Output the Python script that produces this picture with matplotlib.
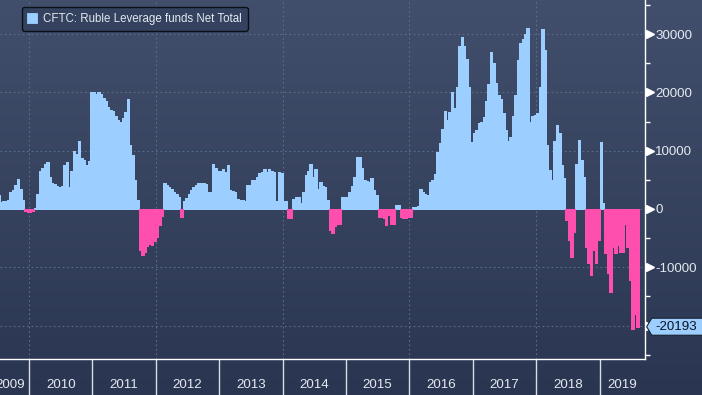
import numpy as np
import matplotlib
matplotlib.use('Agg')
import matplotlib.pyplot as plt
import matplotlib.transforms as mtransforms
from matplotlib import font_manager
from matplotlib.colors import LinearSegmentedColormap
from matplotlib.patches import Polygon
from matplotlib.ticker import MultipleLocator, FuncFormatter

# font: narrow sans if we have it
names = {f.name for f in font_manager.fontManager.ttflist}
narrow = 'Liberation Sans Narrow' in names
font = 'Liberation Sans Narrow' if narrow else 'Liberation Sans'
plt.rcParams['font.family'] = [font, 'DejaVu Sans']
plt.rcParams['axes.unicode_minus'] = False
tick_size = 10.5 if narrow else 9.6
legend_size = 9 if narrow else 8.3

# CFTC ruble leveraged funds net, biweekly readings (2009 from July)
net_2009 = [2400, 1200, 1300, 1400, 1500, 2900, 3200, 4200, 5100, 3500, 1500, -300, -500]
net_2010 = [-500, -400, 200, 2500, 6500, 7000, 7700, 8000, 5500, 4500, 4300, 4000, 3800,
            4000, 7500, 8000, 3800, 6500, 10000, 9500, 11700, 8800, 8400, 7500, 8300, 20000]
net_2011 = [20000, 19800, 20000, 19700, 19000, 18500, 17500, 17000, 16800, 16000, 15200, 14900, 15600,
            16600, 18900, 11000, 9200, 5000, 1500, -7000, -7900, -7400, -6400, -6000, -6200, -5500]
net_2012 = [-4800, -2800, -1200, 4400, 4200, 3800, 3400, 3000, 2600, 2100, -1300, 1300, 1900,
            2500, 3200, 3800, 4100, 4400, 4500, 4400, 4300, 3000, 3000, 7800, 7000, 6600]
net_2013 = [6600, 6800, 6400, 7500, 3200, 3100, 2900, 1800, 1600, 1500, 1400, 4100, 4100,
            4900, 5000, 5500, 6100, 6400, 6800, 6400, 6800, 6600, 6400, 1300, 6300, 6100]
net_2014 = [1300, 1300, -1600, -1600, 1800, 2000, 2000, 1000, 3000, 5800, 6500, 7800, 5500,
            6900, 3500, 4700, 4000, 3800, 1500, -3600, -4200, -3000, -2500, -2500, 2100, 2100]
net_2015 = [2100, 2900, 4000, 5500, 8900, 9000, 7000, 4900, 4800, 4700, 5400, 3200, 2400,
            -1300, -1300, -1500, -2700, -1000, -2600, -2600, 700, 700, -1300, -1600, -1600, -1400]
net_2016 = [-1400, 300, 400, 600, 3500, 3000, 2600, 2400, 4700, 5000, 6000, 9800, 11300,
            13800, 16800, 15300, 16700, 20000, 17300, 21000, 28000, 29500, 28000, 25800, 21000, 11500]
net_2017 = [13000, 13500, 14700, 15000, 15800, 18500, 21500, 26900, 25000, 21600, 19500, 18800, 16500,
            13500, 11600, 12400, 16000, 19600, 25500, 28500, 29200, 30000, 31000, 15000, 16000, 16100]
net_2018 = [16400, 21000, 30900, 27300, 11000, 6700, 5000, 11600, 14400, 13000, 7500, 5300, -1900,
            -5300, -8200, -4000, 7800, 11900, 8400, 5500, -6500, -9300, -11300, -7000, -9300, -5300]
net_2019 = [11500, 1000, -7600, -11000, -14300, -6500, -7600, -6200, -7300, -7300, -2500, -6500,
            -12200, -20500, -18000, -20193]

years = list(range(2009, 2020))
series = [net_2009, net_2010, net_2011, net_2012, net_2013, net_2014,
          net_2015, net_2016, net_2017, net_2018, net_2019]
last_value = net_2019[-1]

BLUE = '#9ccfff'
PINK = '#ff4fae'
GRID = '#5b6d89'
TXT = '#e4e9f0'

pos, vals = [], []
for yr, v in zip(years, series):
    start = yr + 0.5 if yr == 2009 else yr
    pos += [start + (k + 0.5) / 26 for k in range(len(v))]
    vals += v
pos = np.array(pos)
vals = np.array(vals)

fig = plt.figure(figsize=(7.02, 3.95), dpi=100)

# background gradient over the whole figure
bg = fig.add_axes([0, 0, 1, 1], zorder=0)
grad = np.linspace(1, 0, 256).reshape(-1, 1)
cmap = LinearSegmentedColormap.from_list('bg', ['#2a3651', '#424f6c'])
bg.imshow(grad, aspect='auto', cmap=cmap, extent=[0, 1, 0, 1])
bg.axis('off')

ax = fig.add_axes([0, 36 / 395, 645 / 702, 359 / 395], zorder=1)
ax.set_facecolor('none')

up = vals >= 0
ax.bar(pos[up], vals[up], width=1 / 26, color=BLUE, ec=BLUE, lw=0.6, antialiased=False,
       label='CFTC: Ruble Leverage funds Net Total', zorder=2)
ax.bar(pos[~up], vals[~up], width=1 / 26, color=PINK, ec=PINK, lw=0.6, antialiased=False,
       zorder=2)

ax.set_xlim(2009.5426, 2019.716)
ax.set_ylim(-25730, 35850)

# grid
ax.set_axisbelow(True)
ax.yaxis.grid(True, which='major', color=GRID, ls=(0, (1.5, 2.5)), lw=0.8)
for yr in range(2010, 2020, 2):
    ax.axvline(yr, color=GRID, ls=(0, (1.5, 2.5)), lw=0.8, zorder=0)

# spines
for s in ['top', 'left']:
    ax.spines[s].set_visible(False)
for s in ['right', 'bottom']:
    ax.spines[s].set_color('white')
    ax.spines[s].set_linewidth(1)

# x axis: year separators + centred labels
ax.set_xticks(range(2010, 2020))
ax.set_xticklabels([])
ax.tick_params(axis='x', which='major', length=26, width=1, color='#d8dde5', direction='out')
label_pos = [2009.71] + [y + 0.5 for y in range(2010, 2019)] + [2019.36]
ax.set_xticks(label_pos, minor=True)
ax.set_xticklabels([str(y) for y in years], minor=True)
ax.tick_params(axis='x', which='minor', length=0, pad=14.5, labelsize=tick_size, labelcolor=TXT)

# y axis on right
ax.yaxis.tick_right()
ax.yaxis.set_major_locator(MultipleLocator(10000))
ax.yaxis.set_minor_locator(MultipleLocator(5000))
ax.yaxis.set_major_formatter(FuncFormatter(lambda v, p: '%d' % v))
ax.tick_params(axis='y', which='major', length=0, pad=7.4, labelsize=tick_size, labelcolor=TXT)
ax.tick_params(axis='y', which='minor', length=3.6, width=1, color='white')

trans = mtransforms.blended_transform_factory(ax.transAxes, ax.transData)
major = np.arange(-20000, 30001, 10000)
ax.plot(np.full(len(major), 1.0075), major, ls='none', marker='>', ms=5.5,
        color='white', transform=trans, clip_on=False, zorder=5)

# last value tag
h = 1460
tag = Polygon([(1.0026, last_value), (1.0104, last_value + h), (1.1, last_value + h),
               (1.1, last_value - h), (1.0104, last_value - h)],
              closed=True, transform=trans, fc=BLUE, ec='#18202f', lw=0.8,
              clip_on=False, zorder=6)
ax.add_patch(tag)
ax.text(1.0155, last_value, '%d' % last_value, transform=trans, ha='left', va='center',
        fontsize=tick_size, color='#0d1420', zorder=7, clip_on=False)

# legend
leg = ax.legend(loc='upper left', bbox_to_anchor=(0.0336, 0.98), borderaxespad=0,
                frameon=True, fancybox=True, facecolor='#34425f', edgecolor='#0b0f18',
                framealpha=1, fontsize=legend_size, labelcolor=TXT, handlelength=0.85,
                handleheight=0.85, handletextpad=0.5, borderpad=0.5)
leg.get_frame().set_linewidth(1)

fig.savefig('out.png', dpi=100)
